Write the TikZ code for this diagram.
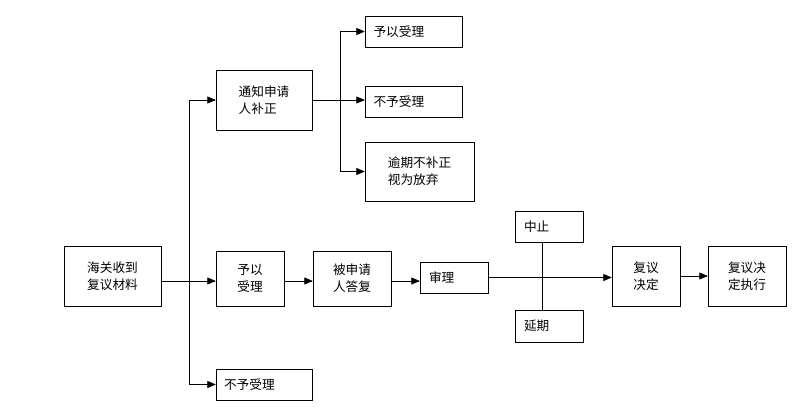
\documentclass[tikz,border=0pt]{standalone}
\usepackage{fontspec}
\setmainfont{Noto Sans CJK SC}
\usetikzlibrary{arrows}
\usetikzlibrary{shapes,backgrounds}

\begin{document}
\begin{tikzpicture}[x=0.75pt,y=-0.75pt,->,>=triangle 45,thin,
                    main node/.style={rectangle,draw,inner sep=0pt,font=\fontsize{9.5}{13}\selectfont,align=left}]
  \useasboundingbox (0,0) rectangle (798,413);

  \node[main node,minimum width=97*0.75pt,minimum height=60*0.75pt] (start) at (112.5,276) {海关收到\\复议材料};
  \node[main node,minimum width=96*0.75pt,minimum height=60*0.75pt] (notify) at (264,100) {通知申请\\人补正};
  \node[main node,minimum width=97*0.75pt,minimum height=31*0.75pt,text width=80*0.75pt] (acc1) at (413.5,31.5) {予以受理};
  \node[main node,minimum width=97*0.75pt,minimum height=31*0.75pt,text width=80*0.75pt] (rej1) at (413.5,101.5) {不予受理};
  \node[main node,minimum width=109*0.75pt,minimum height=59*0.75pt] (late) at (419.5,171.5) {逾期不补正\\视为放弃};
  \node[main node,minimum width=68*0.75pt,minimum height=55*0.75pt] (acc2) at (250,278.5) {予以\\受理};
  \node[main node,minimum width=78*0.75pt,minimum height=55*0.75pt] (reply) at (352,278.5) {被申请\\人答复};
  \node[main node,minimum width=68*0.75pt,minimum height=31*0.75pt,text width=50*0.75pt] (review) at (454,277.5) {审理};
  \node[main node,minimum width=68*0.75pt,minimum height=31*0.75pt,text width=50*0.75pt] (stop) at (549,226.5) {中止};
  \node[main node,minimum width=68*0.75pt,minimum height=32*0.75pt,text width=50*0.75pt] (delay) at (549,326) {延期};
  \node[main node,minimum width=68*0.75pt,minimum height=60*0.75pt] (decide) at (646,276) {复议\\决定};
  \node[main node,minimum width=78*0.75pt,minimum height=60*0.75pt] (exec) at (747,276) {复议决\\定执行};
  \node[main node,minimum width=96*0.75pt,minimum height=31*0.75pt,text width=80*0.75pt] (rej2) at (264,384.5) {不予受理};

  \coordinate (trunk) at (189,281);
  \coordinate (branch) at (340,100);

  \draw[-] (start.east |- trunk) -- (trunk);
  \draw (trunk) |- (notify.west);
  \draw (trunk) -- (acc2.west |- trunk);
  \draw (trunk) |- (rej2.west);
  \draw[-] (notify.east) -- (branch);
  \draw (branch) |- (acc1.west);
  \draw (branch) -- (rej1.west |- branch);
  \draw (branch) |- (late.west);
  \draw (acc2.east |- trunk) -- (reply.west |- trunk);
  \draw (reply.east |- trunk) -- (review.west |- trunk);
  \draw (review.east) -- (decide.west |- review.east);
  \draw[-] (stop.south -| 542,0) -- (delay.north -| 542,0);
  \draw (decide.east) -- (exec.west);
\end{tikzpicture}
\end{document}
